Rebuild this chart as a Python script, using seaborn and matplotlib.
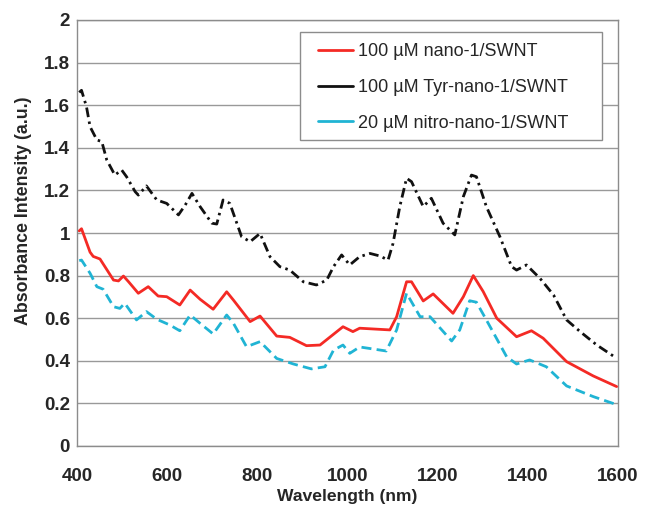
import matplotlib
matplotlib.use("Agg")
import matplotlib.pyplot as plt
import seaborn as sns
import pandas as pd
from matplotlib.lines import Line2D
from matplotlib.patches import Rectangle

# ---- data ----
red_wl = [405, 410, 429, 436, 451, 481, 492, 503, 514, 536, 558, 580, 599, 628, 651, 673, 702,
          732, 747, 784, 806, 843, 872, 909, 939, 990, 1012, 1027, 1094, 1109, 1131, 1142, 1168,
          1190, 1234, 1257, 1279, 1301, 1331, 1375, 1408, 1434, 1486, 1545, 1597]
red_val = [1.01, 1.02, 0.91, 0.89, 0.878, 0.779, 0.775, 0.798, 0.772, 0.717, 0.748, 0.704, 0.701,
           0.662, 0.732, 0.689, 0.642, 0.724, 0.685, 0.584, 0.610, 0.516, 0.510, 0.471, 0.474,
           0.560, 0.537, 0.553, 0.545, 0.607, 0.771, 0.771, 0.681, 0.714, 0.623, 0.701, 0.800,
           0.725, 0.600, 0.513, 0.541, 0.506, 0.396, 0.329, 0.279]

black_wl = [405, 410, 421, 429, 444, 455, 466, 484, 499, 510, 529, 536, 554, 577, 599, 625, 640,
            655, 673, 699, 710, 724, 739, 765, 784, 806, 828, 850, 872, 902, 931, 954, 969, 987,
            1005, 1027, 1050, 1072, 1090, 1101, 1116, 1131, 1142, 1168, 1186, 1212, 1238, 1257,
            1275, 1286, 1308, 1338, 1364, 1375, 1397, 1427, 1457, 1486, 1516, 1553, 1597]
black_val = [1.66, 1.67, 1.593, 1.499, 1.437, 1.429, 1.343, 1.272, 1.296, 1.264, 1.194, 1.178,
             1.221, 1.155, 1.139, 1.085, 1.131, 1.186, 1.124, 1.046, 1.042, 1.155, 1.139, 0.983,
             0.959, 0.998, 0.889, 0.842, 0.826, 0.771, 0.756, 0.779, 0.842, 0.897, 0.850, 0.889,
             0.904, 0.892, 0.873, 0.951, 1.124, 1.257, 1.241, 1.124, 1.163, 1.046, 0.991, 1.171,
             1.272, 1.264, 1.124, 0.983, 0.842, 0.826, 0.850, 0.787, 0.709, 0.592, 0.537, 0.474,
             0.412]

cyan_wl = [405, 410, 429, 444, 458, 481, 495, 506, 532, 554, 577, 606, 628, 651, 673, 702, 732,
           747, 776, 806, 843, 880, 920, 950, 969, 990, 1005, 1027, 1086, 1109, 1131, 1161, 1183,
           1231, 1249, 1271, 1286, 1308, 1353, 1375, 1404, 1441, 1486, 1545, 1593]
cyan_val = [0.87, 0.873, 0.811, 0.748, 0.736, 0.654, 0.646, 0.670, 0.592, 0.631, 0.595, 0.568,
            0.541, 0.615, 0.576, 0.526, 0.615, 0.576, 0.466, 0.490, 0.411, 0.385, 0.362, 0.372,
            0.45, 0.474, 0.435, 0.465, 0.446, 0.545, 0.717, 0.607, 0.607, 0.493, 0.545, 0.682,
            0.675, 0.592, 0.419, 0.385, 0.404, 0.372, 0.282, 0.232, 0.197]

labels = ["100 \u00b5M nano-1/SWNT", "100 \u00b5M Tyr-nano-1/SWNT", "20 \u00b5M nitro-nano-1/SWNT"]
colors = ["#f42a25", "#111111", "#20b4d4"]

x_ticks = [400, 600, 800, 1000, 1200, 1400, 1600]
y_ticks = [0, 0.2, 0.4, 0.6, 0.8, 1, 1.2, 1.4, 1.6, 1.8, 2]
y_tick_labels = ["0", "0.2", "0.4", "0.6", "0.8", "1", "1.2", "1.4", "1.6", "1.8", "2"]

# ---- plotting ----
sns.set_style("white")
plt.rcParams["font.family"] = ["Liberation Sans", "DejaVu Sans"]

fig = plt.figure(figsize=(6.47, 5.08), dpi=100)
ax = fig.add_axes([77 / 647, 62 / 508, 541 / 647, 426 / 508])

df_red = pd.DataFrame({"wl": red_wl, "val": red_val})
df_black = pd.DataFrame({"wl": black_wl, "val": black_val})
df_cyan = pd.DataFrame({"wl": cyan_wl, "val": cyan_val})

LW = 2.0
sns.lineplot(data=df_black, x="wl", y="val", ax=ax, color=colors[1], lw=LW, zorder=3)
ax.lines[-1].set_dashes((3.5, 1.6, 0.9, 1.6))
sns.lineplot(data=df_cyan, x="wl", y="val", ax=ax, color=colors[2], lw=LW, zorder=3)
ax.lines[-1].set_dashes((3.6, 1.9))
sns.lineplot(data=df_red, x="wl", y="val", ax=ax, color=colors[0], lw=LW, zorder=4)

ax.set_xlim(400, 1600)
ax.set_ylim(0, 2)
ax.set_xticks(x_ticks)
ax.set_xticks(range(400, 1601, 100), minor=True)
ax.set_yticks(y_ticks)
ax.set_yticklabels(y_tick_labels)
ax.grid(axis="y", color="#999999", lw=1.0)
ax.set_axisbelow(True)

for s in ax.spines.values():
    s.set_visible(True)
    s.set_color("#8c8c8c")
    s.set_linewidth(1.0)

ax.tick_params(axis="both", which="both", direction="out", color="#8c8c8c",
               labelsize=13.5, width=1.0)
ax.tick_params(axis="x", which="both", length=4.3, pad=11.5)
ax.tick_params(axis="y", length=3, pad=2)
for t in ax.get_xticklabels() + ax.get_yticklabels():
    t.set_fontweight("bold")

ax.set_xlabel("Wavelength (nm)", fontsize=12.6, fontweight="bold", labelpad=3)
ax.set_ylabel("Absorbance Intensity (a.u.)", fontsize=12.8, fontweight="bold")
ax.yaxis.set_label_coords(-0.083, 0.552)

# legend box
box = Rectangle((0.4122, 0.7183), 0.9704 - 0.4122, 0.9718 - 0.7183, transform=ax.transAxes,
                facecolor="white", edgecolor="#8c8c8c", lw=1.0, zorder=5)
ax.add_patch(box)
handles = [Line2D([], [], color=c, lw=LW) for c in colors]
leg = ax.legend(handles, labels, loc="upper left", bbox_to_anchor=(0.4455, 0.9449),
                frameon=False, fontsize=13, handlelength=1.94, labelspacing=1.03,
                borderpad=0, handletextpad=0.3, borderaxespad=0)
leg.set_zorder(6)

fig.savefig("out.png", dpi=100)
